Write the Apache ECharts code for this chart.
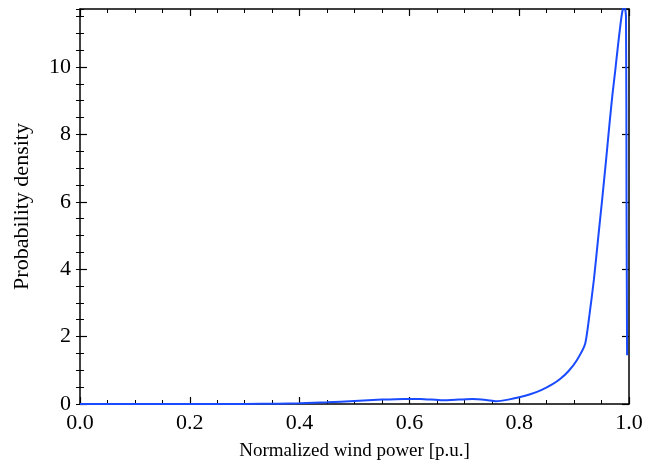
<!DOCTYPE html>
<html>
<head>
<meta charset="utf-8">
<title>Wind power probability density</title>
<script src="https://cdn.jsdelivr.net/npm/echarts@6/dist/echarts.min.js"></script>
<style>
  html, body { margin: 0; padding: 0; background: #fff; }
  #chart { width: 667px; height: 468px; }
</style>
</head>
<body>
<div id="chart"></div>
<script>
// Normalized wind power [p.u.]
const powerValues = [0, 0.1, 0.2, 0.3, 0.36, 0.4, 0.45, 0.5, 0.55, 0.59, 0.62, 0.66, 0.69, 0.715, 0.74, 0.758,
  0.78, 0.8, 0.82, 0.84, 0.86, 0.875, 0.89, 0.905, 0.92, 0.928, 0.936, 0.944, 0.951, 0.958, 0.965,
  0.97, 0.975, 0.979, 0.9855, 0.989, 0.991, 0.9945, 0.9955, 0.9965];
// Estimated probability density at each power value
const densityValues = [0, 0, 0, 0.003, 0.008, 0.02, 0.05, 0.09, 0.13, 0.15, 0.15, 0.11, 0.13, 0.15, 0.12, 0.08,
  0.13, 0.2, 0.29, 0.41, 0.58, 0.75, 0.98, 1.3, 1.78, 2.65, 3.68, 4.95, 6.05, 7.2, 8.4,
  9.2, 9.9, 10.5, 11.4, 11.75, 11.9, 11.5, 6, 1.45];

const xTitle = 'Normalized wind power [p.u.]';
const yTitle = 'Probability density';
const yTop = 11.72;

const font = "'Liberation Serif', 'Times New Roman', serif";
const ink = '#000';

const chart = echarts.init(document.getElementById('chart'), null, { renderer: 'canvas' });

const seriesData = powerValues.map((p, i) => [p, densityValues[i]]);

// Shared axis frame styling: ticks point inward on all four sides
function frameAxis(extra) {
  return Object.assign({
    type: 'value',
    axisLine: { show: true, onZero: false, lineStyle: { color: ink, width: 1.5 } },
    axisTick: { show: true, inside: true, length: 7, lineStyle: { color: ink, width: 1.2 } },
    splitLine: { show: false },
    axisLabel: { show: false }
  }, extra);
}

const minorTick = { show: true, splitNumber: 4, length: 4, lineStyle: { color: ink, width: 1 } };

chart.setOption({
  animation: false,
  backgroundColor: '#fff',
  grid: { left: 80, right: 38, top: 9, bottom: 64, containLabel: false },
  xAxis: [
    frameAxis({
      position: 'bottom', min: 0, max: 1, interval: 0.2,
      minorTick: minorTick,
      axisLabel: {
        show: true, margin: 8, color: ink, fontFamily: font, fontSize: 22,
        formatter: v => v.toFixed(1)
      },
      name: xTitle, nameLocation: 'middle', nameGap: 38,
      nameTextStyle: { color: ink, fontFamily: font, fontSize: 19 }
    }),
    frameAxis({ position: 'top', min: 0, max: 1, interval: 0.2, minorTick: minorTick })
  ],
  yAxis: [
    frameAxis({
      position: 'left', min: 0, max: yTop, interval: 2,
      axisLabel: {
        show: true, margin: 9, color: ink, fontFamily: font, fontSize: 22,
        showMaxLabel: false, formatter: v => String(v)
      },
      name: yTitle, nameLocation: 'middle', nameGap: 47,
      nameTextStyle: { color: ink, fontFamily: font, fontSize: 22 }
    }),
    // minor ticks every 0.5 on the left edge
    frameAxis({
      position: 'left', min: 0, max: yTop, interval: 0.5,
      axisLine: { show: false },
      axisTick: { show: true, inside: true, length: 4, lineStyle: { color: ink, width: 1 } }
    }),
    frameAxis({ position: 'right', min: 0, max: yTop, interval: 2 }),
    // minor ticks every 0.5 on the right edge
    frameAxis({
      position: 'right', min: 0, max: yTop, interval: 0.5,
      axisLine: { show: false },
      axisTick: { show: true, inside: true, length: 4, lineStyle: { color: ink, width: 1 } }
    })
  ],
  series: [{
    type: 'line',
    xAxisIndex: 0,
    yAxisIndex: 0,
    data: seriesData,
    showSymbol: false,
    smooth: 0.2,
    clip: true,
    lineStyle: { color: '#1a4bff', width: 2 },
    itemStyle: { color: '#1a4bff' }
  }]
});
</script>
</body>
</html>
